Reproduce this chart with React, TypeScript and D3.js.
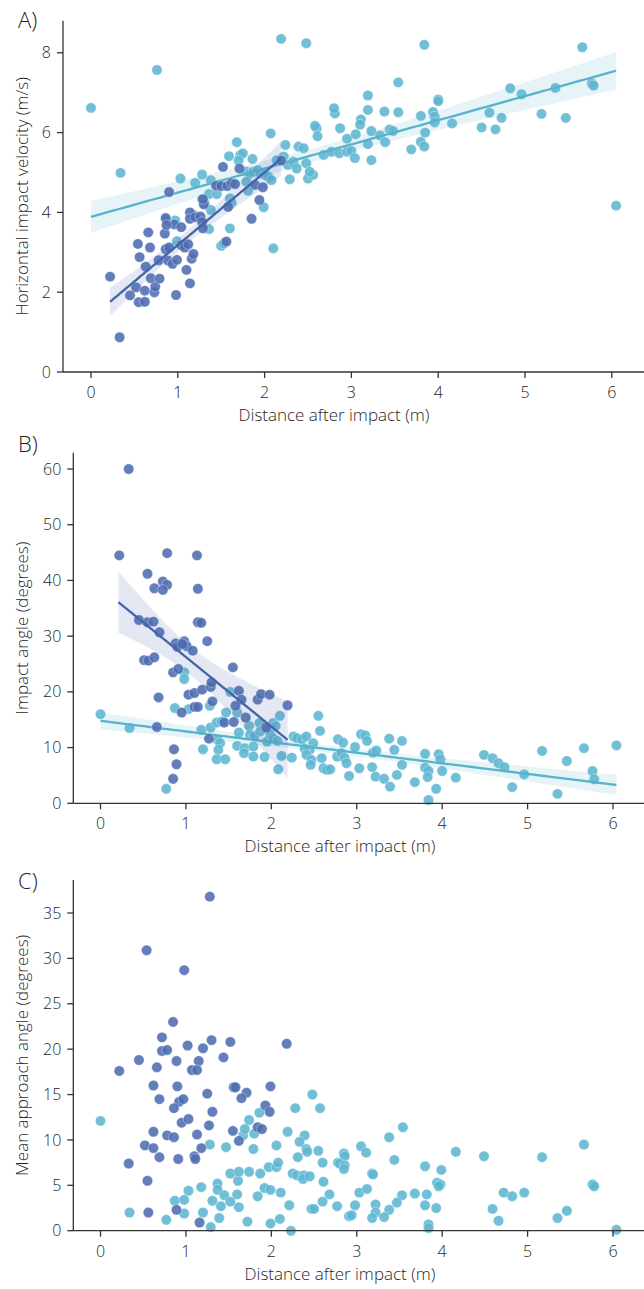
import React from "react";
import * as d3 from "d3";

type Pt = [number, number];

// ---------- Panel A: horizontal impact velocity (m/s) ----------
const velocityDark: Pt[] = [
  [0.22, 2.39], [0.33, 0.87], [0.45, 1.92], [0.52, 2.12], [0.55, 1.75], [0.62, 1.76], [0.62, 2.04],
  [0.73, 2.0], [0.74, 2.14], [0.69, 2.35], [0.79, 2.34], [0.63, 2.64], [0.56, 2.88], [0.54, 3.21],
  [0.68, 3.12], [0.66, 3.5], [0.85, 3.47], [0.86, 3.86], [0.78, 2.8], [0.86, 3.08], [0.9, 3.12],
  [0.89, 2.79], [0.94, 2.71], [0.99, 2.81], [0.96, 3.7], [1.04, 3.63], [0.98, 1.93], [1.04, 3.18],
  [1.08, 3.12], [1.12, 3.2], [1.1, 2.56], [1.14, 2.22], [1.16, 2.84], [1.18, 2.96], [1.14, 4.0],
  [1.14, 3.84], [1.2, 3.88], [1.26, 3.9], [1.28, 3.76], [1.3, 4.2], [1.29, 4.33], [0.9, 4.51],
  [1.52, 5.14], [1.44, 4.67], [1.5, 4.66], [1.57, 4.66], [1.62, 4.74], [1.66, 4.71], [1.56, 3.27],
  [1.58, 4.14], [1.89, 4.69], [1.98, 4.63], [1.94, 4.31], [1.85, 3.84], [1.71, 5.1], [1.29, 3.6],
  [0.87, 3.68], [2.19, 5.3],
];
const velocityLight: Pt[] = [
  [0.0, 6.62], [0.34, 4.99], [0.76, 7.57], [2.19, 8.35], [2.48, 8.24], [2.07, 5.98], [2.1, 3.1],
  [1.03, 4.85], [1.2, 4.74], [1.28, 4.95], [1.38, 4.81], [1.47, 4.7], [1.36, 4.46], [1.45, 4.46],
  [1.28, 4.33], [1.31, 4.23], [1.38, 4.06], [1.6, 4.35], [1.62, 4.24], [1.19, 3.93], [0.97, 3.8],
  [0.87, 3.81], [0.99, 3.28], [1.36, 3.58], [1.6, 3.6], [1.5, 3.16], [1.53, 3.22],
  [1.59, 5.41], [1.68, 5.76], [1.72, 5.44], [1.75, 5.48], [1.7, 5.3], [1.86, 5.34], [1.79, 5.02],
  [1.83, 4.98], [1.87, 5.02], [1.92, 5.06], [1.95, 4.98], [2.0, 4.94], [2.04, 4.9], [2.08, 4.81],
  [1.79, 4.77], [1.81, 4.54], [1.99, 4.13],
  [2.22, 5.4], [2.14, 5.31], [2.24, 5.69], [2.27, 5.19], [2.33, 5.27], [2.39, 5.65], [2.45, 5.61],
  [2.48, 5.23], [2.37, 5.1], [2.29, 4.83], [2.5, 4.85], [2.56, 4.94], [2.52, 5.02], [2.6, 6.11],
  [2.61, 5.91], [2.58, 6.17], [2.68, 5.44], [2.77, 5.52], [2.86, 5.48], [2.87, 6.11], [2.95, 5.52],
  [2.81, 6.48], [2.8, 6.61],
  [2.95, 5.85], [3.05, 5.96], [3.23, 6.04], [3.33, 5.93], [3.44, 6.08], [3.48, 6.04], [3.19, 5.71],
  [3.39, 5.76], [3.0, 5.54], [3.04, 5.36], [3.23, 5.31], [3.19, 6.93], [3.19, 6.57], [3.38, 6.53],
  [3.54, 6.51], [3.54, 7.26], [3.11, 6.33], [3.1, 6.2],
  [3.84, 8.2], [5.66, 8.14], [6.05, 4.17], [3.69, 5.58], [3.8, 6.42], [3.8, 5.77], [3.84, 5.65],
  [3.85, 6.0], [3.94, 6.52], [3.96, 6.4], [3.96, 6.26], [4.0, 6.83], [4.0, 6.79], [4.16, 6.23],
  [4.5, 6.13], [4.59, 6.5], [4.66, 6.08], [4.73, 6.37], [4.83, 7.11], [4.96, 6.96], [5.19, 6.47],
  [5.35, 7.12], [5.47, 6.37], [5.77, 7.23], [5.79, 7.18],
];
// fitted regression lines (start / end)
const velocityLightFit: Pt[] = [[0, 3.89], [6.05, 7.55]];
const velocityDarkFit: Pt[] = [[0.22, 1.76], [2.19, 5.35]];

// ---------- Panel B: impact angle (degrees) ----------
const angleDark: Pt[] = [
  [0.33, 60.0], [0.22, 44.5], [0.78, 44.9], [1.13, 44.5], [0.55, 41.2], [0.73, 39.8], [0.78, 39.2],
  [0.63, 38.6], [0.73, 38.3], [1.14, 38.5], [0.45, 32.9], [0.55, 32.5], [0.62, 32.6], [0.69, 30.7],
  [1.14, 32.5], [1.18, 32.4], [1.25, 29.1], [0.88, 28.7], [0.98, 29.1], [0.9, 28.1], [1.01, 28.2],
  [0.96, 28.6], [1.08, 27.4], [0.51, 25.7], [0.56, 25.6], [0.63, 26.2], [0.85, 23.5], [0.91, 24.1],
  [1.55, 24.4], [0.68, 19.0], [1.03, 19.5], [1.1, 19.8], [1.19, 20.4], [1.29, 20.9], [1.3, 21.7],
  [1.62, 20.2], [1.65, 18.6], [1.84, 18.6], [1.88, 19.6], [1.98, 19.5], [2.19, 17.6], [1.1, 17.3],
  [1.14, 17.3], [1.31, 18.3], [0.95, 16.3], [1.58, 17.5], [1.7, 15.4], [1.45, 14.5], [1.56, 14.6],
  [0.66, 13.7], [1.27, 11.6], [1.94, 13.6], [0.86, 9.7], [0.89, 7.0], [0.85, 4.4],
];
const angleLight: Pt[] = [
  [0, 16.0], [0.34, 13.5], [0.77, 2.6], [0.98, 23.5], [0.98, 22.3], [0.87, 17.1], [1.03, 16.9],
  [1.28, 17.5], [1.2, 9.7], [1.18, 13.2], [1.29, 13.6], [1.36, 14.5], [1.42, 14.7], [1.47, 16.3],
  [1.52, 20.0], [1.6, 16.3], [1.62, 12.7], [1.74, 13.9], [1.86, 14.4], [1.97, 13.3], [2.02, 14.4],
  [2.05, 13.9], [2.1, 15.7], [1.37, 11.4], [1.4, 10.8], [1.38, 9.6], [1.36, 7.9], [1.46, 7.9],
  [1.6, 10.3], [1.69, 9.9], [1.68, 9.0], [1.79, 10.2], [1.79, 8.4], [1.92, 8.3], [1.75, 12.3],
  [1.8, 12.0], [1.87, 12.9], [1.95, 11.1], [1.99, 12.3], [2.02, 11.7], [2.07, 11.2], [2.08, 6.1],
  [2.12, 8.5], [2.24, 8.2], [2.26, 12.0], [2.3, 11.7], [2.36, 11.5], [2.41, 12.0], [2.49, 10.8],
  [2.45, 9.6], [2.39, 9.8], [2.41, 8.7], [2.47, 7.8], [2.46, 6.9], [2.59, 8.1], [2.61, 6.3],
  [2.65, 6.0], [2.69, 6.1], [2.55, 15.7], [2.57, 13.0], [2.78, 11.5], [2.84, 10.9], [2.77, 8.4],
  [2.82, 9.0], [2.86, 8.1], [2.88, 7.2], [2.91, 4.9], [2.98, 10.1], [3.03, 6.3], [3.05, 12.4],
  [3.1, 12.2], [3.12, 11.2], [3.19, 9.1], [3.23, 9.5], [3.18, 6.5], [3.22, 4.8], [3.32, 4.4],
  [3.39, 3.0], [3.38, 11.6], [3.44, 9.6], [3.47, 5.1], [3.53, 11.2], [3.53, 6.9], [3.68, 3.8],
  [3.8, 8.9], [3.8, 6.4], [3.84, 5.8], [3.83, 4.7], [3.84, 0.6], [3.93, 2.6], [3.96, 8.8],
  [3.98, 7.9], [4.0, 5.8], [4.16, 4.6], [4.49, 8.7], [4.59, 8.1], [4.66, 7.2], [4.73, 6.5],
  [4.82, 2.9], [4.96, 5.2], [5.17, 9.4], [5.35, 1.7], [5.46, 7.6], [5.66, 9.9], [5.76, 5.8],
  [5.78, 4.3], [6.04, 10.4],
];
const angleLightFit: Pt[] = [[0, 14.8], [6.04, 3.29]];
const angleDarkFit: Pt[] = [[0.21, 36.1], [2.19, 11.4]];

// ---------- Panel C: mean approach angle (degrees) ----------
const approachDark: Pt[] = [
  [1.28, 36.8], [0.54, 30.9], [0.98, 28.7], [0.85, 23.0], [0.72, 21.3], [0.72, 19.8], [0.78, 19.9],
  [1.02, 20.4], [1.2, 20.1], [1.3, 21.0], [1.52, 20.8], [2.18, 20.6], [0.45, 18.8], [0.22, 17.6],
  [0.66, 18.0], [0.89, 18.7], [1.15, 18.7], [1.44, 19.1], [1.07, 17.7], [1.13, 17.7], [0.62, 16.0],
  [0.9, 15.9], [0.69, 14.5], [0.92, 14.2], [0.97, 14.5], [0.86, 13.5], [1.25, 15.1], [1.56, 15.8],
  [1.58, 15.8], [1.71, 15.2], [1.65, 14.6], [1.99, 15.9], [1.31, 13.1], [1.93, 13.8], [1.98, 13.1],
  [0.95, 11.9], [1.03, 12.3], [1.27, 11.6], [0.62, 10.9], [0.78, 10.5], [0.86, 10.3], [1.13, 10.6],
  [1.55, 11.0], [1.84, 11.4], [1.89, 11.2], [1.62, 9.9], [0.52, 9.4], [0.62, 9.1], [0.69, 8.1],
  [0.91, 7.9], [1.1, 8.2], [1.11, 7.9], [1.18, 9.1], [0.33, 7.4], [0.55, 5.5], [0.56, 2.0],
  [0.89, 2.3], [1.16, 0.9],
];
const approachLight: Pt[] = [
  [0, 12.1], [0.34, 2.0], [0.77, 1.2], [0.87, 3.3], [0.98, 3.4], [0.98, 1.9], [1.03, 4.4],
  [1.18, 4.8], [1.2, 2.0], [1.28, 9.5], [1.31, 3.3], [1.29, 0.4], [1.37, 5.2], [1.37, 4.5],
  [1.41, 2.7], [1.39, 1.4], [1.45, 3.9], [1.47, 9.2], [1.52, 6.3], [1.52, 3.2], [1.6, 4.0],
  [1.61, 5.5], [1.62, 6.5], [1.62, 2.6], [1.67, 10.5], [1.69, 11.2], [1.74, 12.2], [1.74, 6.5],
  [1.72, 1.0], [1.79, 9.0], [1.8, 10.7], [1.86, 13.0], [1.87, 6.3], [1.92, 4.7], [1.84, 3.8],
  [1.99, 4.5], [1.97, 7.0], [2.06, 7.0], [2.06, 9.4], [2.08, 7.5], [2.11, 4.2], [1.99, 0.8],
  [2.1, 1.3], [2.21, 2.8], [2.23, 0.0], [2.19, 10.9], [2.28, 13.5], [2.48, 15.0], [2.57, 13.5],
  [2.39, 10.5], [2.33, 9.8], [2.41, 9.0], [2.42, 8.7], [2.31, 8.1], [2.25, 6.3], [2.3, 6.1],
  [2.38, 6.1], [2.37, 5.7], [2.45, 6.0], [2.55, 8.8], [2.6, 7.5], [2.61, 5.4], [2.68, 4.0],
  [2.6, 3.2], [2.47, 2.4], [2.5, 2.4], [2.77, 2.7], [2.91, 1.6],
  [3.54, 11.4], [3.38, 10.3], [3.05, 9.3], [3.11, 8.6], [2.85, 8.5], [2.86, 8.2], [2.78, 7.5],
  [2.8, 7.4], [2.86, 7.2], [2.85, 6.8], [3.44, 7.8], [3.18, 6.3], [3.19, 6.2], [3.8, 7.1],
  [3.99, 6.7], [4.16, 8.7], [4.49, 8.2], [5.17, 8.1], [5.66, 9.5], [5.76, 5.1], [5.78, 4.9],
  [3.94, 5.3], [3.98, 5.1], [3.96, 4.9], [3.03, 4.2], [3.12, 4.6], [3.53, 3.9], [3.68, 4.1],
  [3.82, 4.0], [4.72, 4.2], [4.82, 3.8], [4.96, 4.2], [2.98, 2.8], [3.22, 2.9], [3.22, 2.0],
  [3.47, 3.1], [3.38, 2.3], [3.32, 1.5], [3.18, 1.4], [2.94, 1.7], [3.8, 2.8], [3.93, 2.5],
  [3.84, 0.7], [3.84, 0.3], [4.59, 2.4], [4.66, 1.1], [5.35, 1.4], [5.46, 2.2], [6.04, 0.1],
];

const xTicks = [0, 1, 2, 3, 4, 5, 6];
const velocityTicks = [0, 2, 4, 6, 8];
const angleTicks = [0, 10, 20, 30, 40, 50, 60];
const approachTicks = [0, 5, 10, 15, 20, 25, 30, 35];

const DARK = "#4d6cb1";
const LIGHT = "#5db6d1";
const DARK_LINE = "#4463ab";
const LIGHT_LINE = "#58b2cc";
const FONT = "'Open Sans', 'Noto Sans', sans-serif";
const TEXT = "#1f1f1f";
const AXIS = "#333";

// line from the figure, 95% band from the scatter of the points around it
function fitBand(pts: Pt[], fit: Pt[]) {
  const n = pts.length;
  const [[fx0, fy0], [fx1, fy1]] = fit;
  const b = (fy1 - fy0) / (fx1 - fx0);
  const a = fy0 - b * fx0;
  const mx = d3.mean(pts, (p) => p[0]) as number;
  let sxx = 0, sse = 0;
  for (const [x, y] of pts) { sxx += (x - mx) ** 2; sse += (y - a - b * x) ** 2; }
  const s = Math.sqrt(sse / (n - 2));
  return d3.range(0, 101).map((i) => {
    const x = fx0 + ((fx1 - fx0) * i) / 100;
    const yh = a + b * x;
    const se = s * Math.sqrt(1 / n + (x - mx) ** 2 / sxx);
    return { x, y: yh, lo: yh - 1.98 * se, hi: yh + 1.98 * se };
  });
}

type Series = { pts: Pt[]; color: string; line: string; fit?: Pt[] };

type PanelProps = {
  label: string;
  labelY: number;
  spineLeft: number;
  x0: number;
  x6: number;
  yDomain: [number, number];
  yRange: [number, number];
  spineTop: number;
  yTicks: number[];
  yTitle: string;
  xTitleX: number;
  series: Series[];
};

function Panel(p: PanelProps) {
  const x = d3.scaleLinear().domain([0, 6]).range([p.x0, p.x6]);
  const y = d3.scaleLinear().domain(p.yDomain).range(p.yRange);
  const bottom = p.yRange[0];
  const line = d3.line<{ x: number; y: number }>().x((d) => x(d.x)).y((d) => y(d.y));
  const area = d3
    .area<{ x: number; lo: number; hi: number }>()
    .x((d) => x(d.x))
    .y0((d) => y(d.lo))
    .y1((d) => y(d.hi));
  const midY = (p.spineTop + bottom) / 2;
  return (
    <g>
      <text x={18} y={p.labelY} fontSize={22} fontWeight={300} fill={TEXT} fontFamily={FONT}>{p.label}</text>
      {p.series.map((s, si) => {
        const fit = s.fit ? fitBand(s.pts, s.fit) : null;
        return (
          <g key={si}>
            {s.pts.map((d, i) => (
              <circle key={i} cx={x(d[0])} cy={y(d[1])} r={5.2} fill={s.color} fillOpacity={0.88}
                stroke="#ffffff" strokeOpacity={0.6} strokeWidth={0.6} />
            ))}
            {fit && (
              <>
                <path d={area(fit) as string} fill={s.line} fillOpacity={0.15} />
                <path d={line(fit) as string} fill="none" stroke={s.line} strokeWidth={2.3} />
              </>
            )}
          </g>
        );
      })}
      <line x1={p.spineLeft} x2={p.spineLeft} y1={p.spineTop} y2={bottom} stroke={AXIS} strokeWidth={1.3} />
      <line x1={p.spineLeft} x2={644} y1={bottom} y2={bottom} stroke={AXIS} strokeWidth={1.3} />
      {p.yTicks.map((t) => (
        <g key={"y" + t}>
          <line x1={p.spineLeft - 6} x2={p.spineLeft} y1={y(t)} y2={y(t)} stroke={AXIS} strokeWidth={1.3} />
          <text x={p.spineLeft - 12} y={y(t)} dy="0.35em" textAnchor="end" fontSize={16} fontWeight={300} fill={TEXT} fontFamily={FONT}>{t}</text>
        </g>
      ))}
      {xTicks.map((t) => (
        <g key={"x" + t}>
          <line x1={x(t)} x2={x(t)} y1={bottom} y2={bottom + 6} stroke={AXIS} strokeWidth={1.3} />
          <text x={x(t)} y={bottom + 26} textAnchor="middle" fontSize={16} fontWeight={300} fill={TEXT} fontFamily={FONT}>{t}</text>
        </g>
      ))}
      <text x={p.xTitleX} y={bottom + 49} textAnchor="middle" fontSize={17} fontWeight={300} fill={TEXT} fontFamily={FONT}>
        Distance after impact (m)
      </text>
      <text transform={`translate(28,${midY}) rotate(-90)`} textAnchor="middle" fontSize={17} fontWeight={300} fill={TEXT} fontFamily={FONT}>
        {p.yTitle}
      </text>
    </g>
  );
}

export default function App() {
  return (
    <svg width={644} height={1289} style={{ position: "absolute", left: 0, top: 0, background: "#fff" }}>
      <rect width={644} height={1289} fill="#fff" />
      <Panel
        label="A)" labelY={28} spineLeft={63} x0={91} x6={611.8}
        yDomain={[0, 8]} yRange={[372, 52.8]} spineTop={20.7}
        yTicks={velocityTicks} yTitle="Horizontal impact velocity (m/s)" xTitleX={334}
        series={[
          { pts: velocityLight, color: LIGHT, line: LIGHT_LINE, fit: velocityLightFit },
          { pts: velocityDark, color: DARK, line: DARK_LINE, fit: velocityDarkFit },
        ]}
      />
      <Panel
        label="B)" labelY={452} spineLeft={73.3} x0={100.5} x6={613}
        yDomain={[0, 60]} yRange={[803.3, 469]} spineTop={452.7}
        yTicks={angleTicks} yTitle="Impact angle (degrees)" xTitleX={340}
        series={[
          { pts: angleLight, color: LIGHT, line: LIGHT_LINE, fit: angleLightFit },
          { pts: angleDark, color: DARK, line: DARK_LINE, fit: angleDarkFit },
        ]}
      />
      <Panel
        label="C)" labelY={889} spineLeft={73.3} x0={100.5} x6={613}
        yDomain={[0, 35]} yRange={[1230.7, 913]} spineTop={880}
        yTicks={approachTicks} yTitle="Mean approach angle (degrees)" xTitleX={340}
        series={[
          { pts: approachLight, color: LIGHT, line: LIGHT_LINE },
          { pts: approachDark, color: DARK, line: DARK_LINE },
        ]}
      />
    </svg>
  );
}
